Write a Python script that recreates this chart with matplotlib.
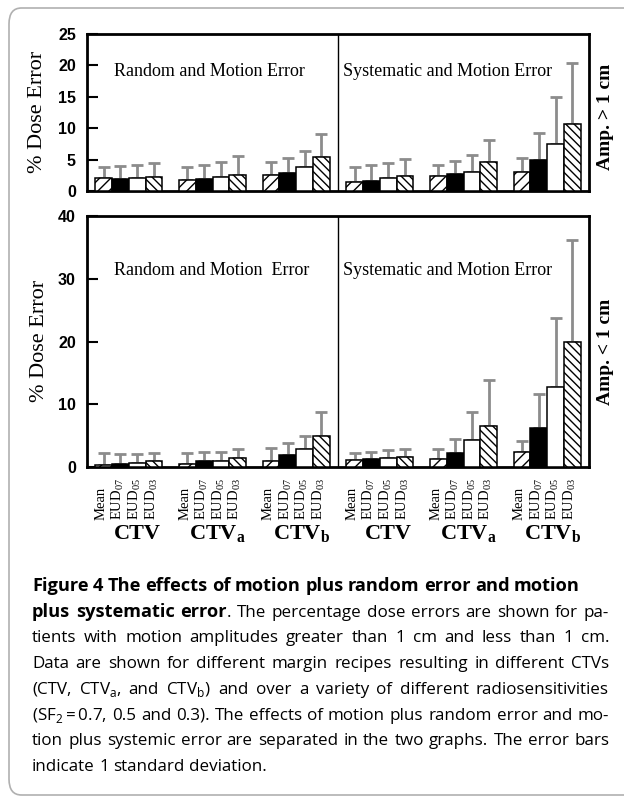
import matplotlib
matplotlib.use("Agg")
import matplotlib.pyplot as plt
import numpy as np
from matplotlib.patches import FancyBboxPatch
from matplotlib.transforms import blended_transform_factory

# % dose error, ordered CTV, CTVa, CTVb x (Mean, EUD07, EUD05, EUD03)
random_gt1 = [2.0, 1.9, 2.0, 2.2, 1.75, 1.9, 2.2, 2.5, 2.5, 2.9, 3.8, 5.4]
random_gt1_sd = [1.8, 2.1, 2.1, 2.2, 2.05, 2.2, 2.4, 3.1, 2.1, 2.4, 2.5, 3.7]
system_gt1 = [1.5, 1.65, 2.0, 2.4, 2.4, 2.7, 3.1, 4.6, 3.1, 4.9, 7.5, 10.6]
system_gt1_sd = [2.3, 2.45, 2.5, 2.7, 1.7, 2.1, 2.6, 3.5, 2.2, 4.3, 7.4, 9.8]

random_lt1 = [0.3, 0.5, 0.7, 0.9, 0.4, 1.0, 1.0, 1.4, 0.9, 1.9, 2.9, 5.0]
random_lt1_sd = [1.9, 1.5, 1.3, 1.4, 1.8, 1.4, 1.4, 1.4, 2.2, 2.0, 2.1, 3.7]
system_lt1 = [1.1, 1.3, 1.4, 1.6, 1.2, 2.2, 4.3, 6.5, 2.4, 6.2, 12.7, 19.9]
system_lt1_sd = [1.2, 1.1, 1.3, 1.2, 1.6, 2.2, 4.4, 7.4, 1.7, 5.4, 11.0, 16.3]

measures = ["Mean", "EUD$_\\mathregular{07}$", "EUD$_\\mathregular{05}$", "EUD$_\\mathregular{03}$"]
ctv_names = ["CTV", "CTV$_\\mathregular{a}$", "CTV$_\\mathregular{b}$"]

faces = ["white", "black", "white", "white"]
hatches = ["///", None, None, "\\\\\\\\"]

SERIF = "Liberation Serif"
CAP = "Open Sans"
plt.rcParams["hatch.linewidth"] = 1.0
plt.rcParams["font.family"] = [SERIF, "DejaVu Sans"]


def draw_panel(ax, rv, rsd, sv, ssd, ymax, step, left_title, ytxt):
    for half, (vals, sd) in enumerate([(rv, rsd), (sv, ssd)]):
        vals = np.array(vals)
        sd = np.array(sd)
        for m in range(4):
            idx = np.arange(3) * 4 + m
            xs = 15 * half + 5 * np.arange(3) + m + 1
            ax.bar(xs, vals[idx], width=1, color=faces[m], hatch=hatches[m],
                   edgecolor="black", linewidth=1.1, zorder=3)
            ax.errorbar(xs, vals[idx], yerr=[np.zeros(3), sd[idx]], fmt="none",
                        ecolor="#8c8c8c", elinewidth=2, capsize=4, capthick=2, zorder=2)
    ax.axvline(15, color="black", lw=1)
    ax.set_xlim(0, 30)
    ax.set_ylim(0, ymax)
    ax.set_yticks(np.arange(0, ymax + 1, step))
    ax.set_xticks([])
    ax.tick_params(axis="y", direction="in", length=8, width=1.5, pad=8)
    for lab in ax.get_yticklabels():
        lab.set_fontfamily("Liberation Sans")
        lab.set_fontweight("bold")
        lab.set_fontsize(11.5)
    for s in ax.spines.values():
        s.set_linewidth(2)
    ax.text(1.6, ytxt, left_title, fontsize=13, va="center", ha="left")
    ax.text(15.3, ytxt, "Systematic and Motion Error", fontsize=13, va="center", ha="left")


fig = plt.figure(figsize=(6.24, 7.98), dpi=100)
W, H = 624, 798

fig.patches.append(FancyBboxPatch((9 / W, 3 / H), 640 / W, 787 / H,
                                  boxstyle="round,pad=0,rounding_size=0.02",
                                  transform=fig.transFigure, facecolor="none",
                                  edgecolor="#b0b0b0", linewidth=1.2))

ax1 = fig.add_axes([87 / W, 1 - 191 / H, 502 / W, 157 / H])
ax2 = fig.add_axes([87 / W, 1 - 467 / H, 502 / W, 251 / H])

draw_panel(ax1, random_gt1, random_gt1_sd, system_gt1, system_gt1_sd, 25, 5,
           "Random and Motion Error", 19)
draw_panel(ax2, random_lt1, random_lt1_sd, system_lt1, system_lt1_sd, 40, 10,
           "Random and Motion  Error", 31.3)

fig.text(37 / W, 1 - 112 / H, "% Dose Error", rotation=90, fontsize=16, ha="center", va="center")
fig.text(40 / W, 1 - 341 / H, "% Dose Error", rotation=90, fontsize=16, ha="center", va="center")
fig.text(605 / W, 1 - 117 / H, "Amp. > 1 cm", rotation=90, fontsize=14, fontweight="bold",
         ha="center", va="center")
fig.text(605 / W, 1 - 352 / H, "Amp. < 1 cm", rotation=90, fontsize=14, fontweight="bold",
         ha="center", va="center")

trans = blended_transform_factory(ax2.transData, ax2.transAxes)
for half in range(2):
    for g in range(3):
        for m in range(4):
            x = 15 * half + 5 * g + m + 1
            ax2.text(x - 0.15, -0.21, measures[m], rotation=90, fontsize=10.5,
                     ha="center", va="bottom", transform=trans)
        ax2.text(15 * half + 5 * g + 2.5 + (0.3 if g else 0.5), -0.268, ctv_names[g],
                 fontsize=16, fontweight="bold", ha="center", va="center", transform=trans)

# caption, justified word by word
caption = [
    [("Figure 4 The effects of motion plus random error and motion", "bold", False)],
    [("plus systematic error", "bold", False), (". The percentage dose errors are shown for pa-", "normal", True)],
    [("tients with motion amplitudes greater than 1 cm and less than 1 cm.", "normal", False)],
    [("Data are shown for different margin recipes resulting in different CTVs", "normal", False)],
    [("(CTV, CTV$_\\mathregular{a}$, and CTV$_\\mathregular{b}$) and over a variety of different radiosensitivities", "normal", False)],
    [("(SF$_\\mathregular{2}$\u2009=\u20090.7, 0.5 and 0.3). The effects of motion plus random error and mo-", "normal", False)],
    [("tion plus systemic error are separated in the two graphs. The error bars", "normal", False)],
    [("indicate 1 standard deviation.", "normal", False)],
]
justify = [False, True, True, True, True, True, True, False]

renderer = fig.canvas.get_renderer()
x0, x1 = 32, 609


def text_width(s, size, wt):
    t = fig.text(0, 0, s, fontsize=size, fontweight=wt, family=CAP)
    w = t.get_window_extent(renderer).width
    t.remove()
    return w


# pick sizes so the caption fills the same width as the original
bold_size = 10 * 552 / text_width(caption[0][0][0], 10, "bold")
widest = max(text_width("".join(s for s, _, _ in ln), 10, "normal") for ln in caption[2:7])
reg_size = 10 * (x1 - x0 - 6) / widest

y = 591
for line, just in zip(caption, justify):
    words = []
    for seg, wt, attach in line:
        parts = seg.split(" ")
        for k, p in enumerate(parts):
            t = fig.text(0, 1 - y / H, p, fontsize=bold_size if wt == "bold" else reg_size,
                         fontweight=wt, family=CAP, va="baseline", ha="left")
            words.append([t, attach and k == 0])
    widths = [w[0].get_window_extent(renderer).width for w in words]
    ngaps = sum(1 for w in words[1:] if not w[1])
    if just and ngaps:
        gap = (x1 - x0 - sum(widths)) / ngaps
    else:
        gap = reg_size * 0.36
    x = x0
    for (t, att), wd in zip(words, widths):
        if att:
            x -= gap
        t.set_x(x / W)
        x += wd + gap
    y += 25.7

fig.savefig("out.png", dpi=100)
